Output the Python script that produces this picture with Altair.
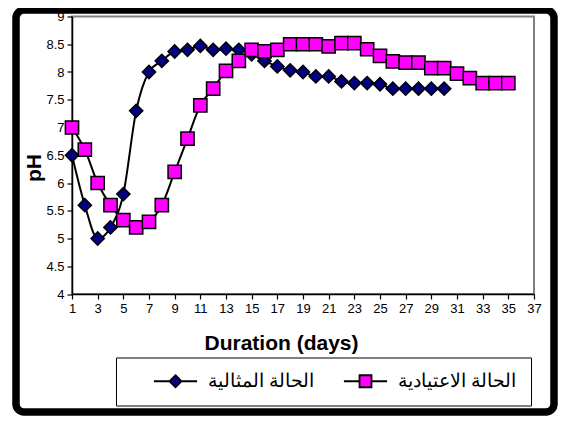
import altair as alt
import pandas as pd

# ---- data ----
series_names = ["الحالة المثالية", "الحالة الاعتيادية"]
days_optimal = list(range(1, 31))
ph_optimal = [6.5, 5.6, 5.0, 5.2, 5.8, 7.3, 8.0, 8.2, 8.37, 8.4,
              8.47, 8.4, 8.42, 8.4, 8.32, 8.2, 8.1, 8.03, 8.0, 7.92,
              7.92, 7.83, 7.8, 7.8, 7.78, 7.7, 7.7, 7.7, 7.7, 7.7]
days_normal = list(range(1, 36))
ph_normal = [7.0, 6.6, 6.0, 5.6, 5.33, 5.2, 5.3, 5.6, 6.2, 6.8,
             7.4, 7.7, 8.02, 8.2, 8.4, 8.37, 8.4, 8.5, 8.5, 8.5,
             8.46, 8.52, 8.52, 8.41, 8.29, 8.19, 8.17, 8.17, 8.07, 8.07,
             7.97, 7.89, 7.8, 7.8, 7.8]
x_ticks = list(range(1, 38, 2))
y_ticks = [4, 4.5, 5, 5.5, 6, 6.5, 7, 7.5, 8, 8.5, 9]
marker_colors = ["#000080", "#FF00FF"]

df = pd.concat([
    pd.DataFrame({"day": days_optimal, "ph": ph_optimal, "series": series_names[0], "order": 0}),
    pd.DataFrame({"day": days_normal, "ph": ph_normal, "series": series_names[1], "order": 1}),
], ignore_index=True)

FONT = "Liberation Sans"

x_axis = alt.Axis(values=x_ticks, title="Duration (days)", grid=False,
                  labelOverlap=False,
                  labelFontSize=13, labelFont=FONT, labelColor="black",
                  labelPadding=3, tickSize=5, tickColor="black",
                  domainColor="black", domainWidth=1.5, tickWidth=1.2,
                  titleFont=FONT, titleFontSize=21, titleFontWeight="bold",
                  titleColor="black", titleX=209, titleY=55,
                  titleBaseline="alphabetic", titleAlign="center",
                  labelFlush=False)
y_axis = alt.Axis(values=y_ticks, title="pH", grid=False,
                  labelOverlap=False,
                  labelExpr="'' + datum.value",
                  labelFontSize=13, labelFont=FONT, labelColor="black",
                  labelPadding=3, tickSize=5, tickColor="black",
                  domainColor="black", domainWidth=1.5, tickWidth=1.2,
                  titleFont=FONT, titleFontSize=21, titleFontWeight="bold",
                  titleColor="black", titleX=-32, titleY=151,
                  titleAngle=270, titleBaseline="alphabetic",
                  titleAlign="center", labelFlush=False)
x_scale = alt.Scale(domain=[1, 37], nice=False, zero=False)
y_scale = alt.Scale(domain=[4, 9], nice=False, zero=False)
x_enc = alt.X("day:Q", scale=x_scale, axis=x_axis)
y_enc = alt.Y("ph:Q", scale=y_scale, axis=y_axis)

base = alt.Chart(df)

lines = base.mark_line(color="black", strokeWidth=2, interpolate="monotone").encode(
    x=x_enc, y=y_enc, detail="series:N", order="day:Q")

points = base.mark_point(filled=True, stroke="black", strokeWidth=1.5, opacity=1, size=175).encode(
    x=x_enc, y=y_enc,
    shape=alt.Shape("series:N", scale=alt.Scale(domain=series_names, range=["diamond", "square"]), legend=None),
    fill=alt.Fill("series:N", scale=alt.Scale(domain=series_names, range=marker_colors), legend=None),
    order="order:Q")

legend_paths = ["M-3.6,0H-1M1,0H3.6M0,-1L1,0L0,1L-1,0Z",
                "M-3.6,0H-1M1,0H3.6M-1,-1H1V1H-1Z"]
pad = "\u00a0" * 4
label_expr = "datum.value == '" + series_names[1] + "' ? datum.label + '" + pad + "' : datum.label"
leg = alt.Legend(title=None, orient="none", legendX=44, legendY=341, direction="horizontal",
                 strokeColor="black", fillColor="white", padding=14,
                 labelFont=FONT, labelFontSize=19, labelColor="black",
                 labelExpr=label_expr,
                 symbolSize=144, symbolStrokeColor="black", symbolStrokeWidth=1.8,
                 symbolOpacity=1,
                 symbolOffset=36, labelOffset=23, columnPadding=5, cornerRadius=0)
legend_layer = base.mark_point(filled=True, strokeWidth=1.8, size=144, opacity=1).encode(
    x=x_enc, y=y_enc,
    shape=alt.Shape("series:N", scale=alt.Scale(domain=series_names, range=legend_paths), legend=leg),
    fill=alt.Fill("series:N", scale=alt.Scale(domain=series_names, range=marker_colors), legend=leg),
    stroke=alt.Stroke("series:N", scale=alt.Scale(domain=series_names, range=["black", "black"]), legend=leg),
).transform_filter("datum.day > 1000")

frame = alt.Chart(alt.Data(values=[{"k": 1}])).mark_rect(
    fill=None, stroke="black", strokeWidth=7.5, cornerRadius=8, clip=False).encode(
    x=alt.value(-56), x2=alt.value(482), y=alt.value(-6.5), y2=alt.value(395.5))

chart = alt.layer(lines, points, legend_layer, frame).resolve_scale(
    shape="independent", fill="independent", stroke="independent"
).properties(
    width=462, height=277.5,
    autosize=alt.AutoSizeParams(type="none"),
    padding={"left": 64, "top": 8.5, "right": 24, "bottom": 122},
    background="white",
).configure_view(stroke="#808080", strokeWidth=2).configure_axis(labelOverlap=False)

chart.save("out.html", embed_options={"renderer": "svg", "actions": False})
